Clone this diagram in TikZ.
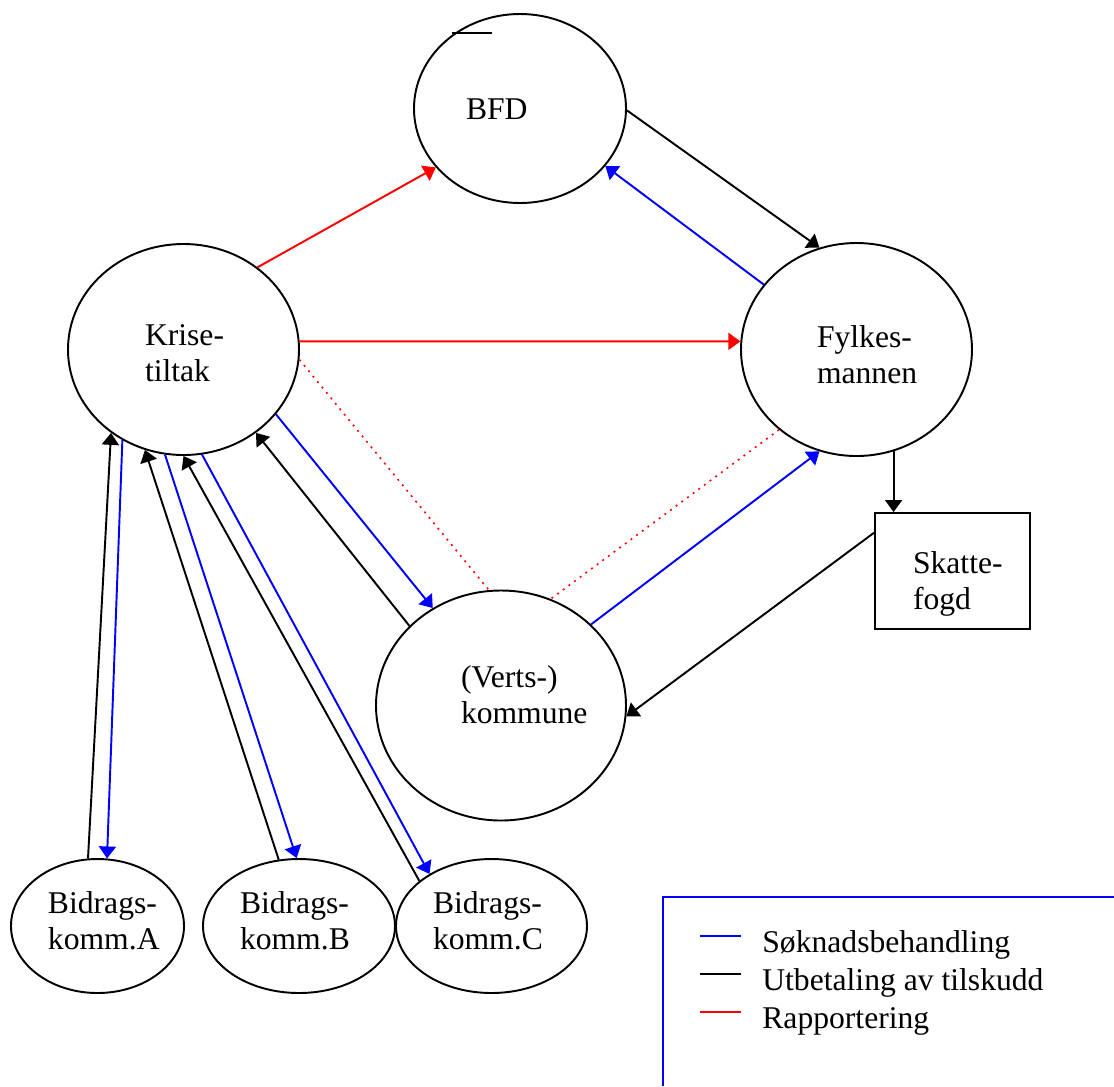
\documentclass[tikz,border=0pt]{standalone}
\usepackage{fontspec}
\setmainfont{Liberation Serif}
\usepackage{tikz}
\usetikzlibrary{shapes.geometric,arrows.meta}
\newcommand{\soknadcolor}{blue}
\newcommand{\utbetcolor}{black}
\newcommand{\rapportcolor}{red}
\newcommand{\thickness}{1.1pt}
\hyphenpenalty=10000
\exhyphenpenalty=10000
\tikzset{
  >={Triangle[length=2.4mm,width=3.4mm]},
  blob/.style={draw, ellipse, line width=\thickness, align=left, inner sep=0pt, text height=4.4mm},
  boks/.style={draw, rectangle, line width=\thickness, align=left, inner sep=0pt, text height=4.4mm},
  soknad/.style={draw=\soknadcolor, line width=\thickness, ->},
  utbet/.style={draw=\utbetcolor, line width=\thickness, ->},
  rapport/.style={draw=\rapportcolor, line width=\thickness, ->},
  rapportdot/.style={draw=\rapportcolor, line width=0.9pt, dash pattern=on 1.1pt off 2.9pt}
}

\begin{document}
\begin{tikzpicture}[x=0.2mm, y=-0.2mm, font=\fontsize{18pt}{21pt}\selectfont]
\useasboundingbox (0,0) rectangle (1114,1086);
%nodes
\node[blob, minimum width=42.4mm, minimum height=37.8mm, text width=21.6mm] (bfd) at (520,108.5) {BFD};
\node[blob, minimum width=46.2mm, minimum height=42.2mm, text width=15.4mm, text depth=6.2mm] (krise) at (183.5,349.5) {Krise-\\tiltak};
\node[blob, minimum width=46.2mm, minimum height=42.6mm, text width=15.8mm, text depth=5.4mm] (fylke) at (856.5,349.5) {Fylkes-\\mannen};
\node[blob, minimum width=50mm, minimum height=46mm, text width=16mm, text depth=11.8mm] (verts) at (501,705.5) {(Verts-)\\kommune};
\node[boks, minimum width=31mm, minimum height=23.2mm, text width=15.8mm, text depth=3.6mm] (skatt) at (952.5,571) {Skatte-\\fogd};
\node[blob, minimum width=34.6mm, minimum height=26.8mm, text width=19.8mm, text depth=9.6mm] (a) at (97.5,926) {Bidrags-\\komm.A};
\node[blob, minimum width=38.4mm, minimum height=26.8mm, text width=23.6mm, text depth=9.6mm] (b) at (299,926) {Bidrags-\\komm.B};
\node[blob, minimum width=38.2mm, minimum height=26.8mm, text width=23.4mm, text depth=9.6mm] (c) at (491.5,926) {Bidrags-\\komm.C};
\draw[line width=\thickness] (452,33) -- (492,33);
%BFD, Fylkesmannen, Skattefogd
\draw[utbet] (bfd.-1) -- (fylke.110);
\draw[soknad] (fylke.145) -- (bfd.-34);
\draw[utbet] (fylke.-70) -- (fylke.-70 |- skatt.north);
\draw[utbet] (skatt.154) -- (verts.-5);
\draw[soknad] (verts.42) -- (fylke.250);
\draw[rapportdot] (fylke.226) -- (verts.65);
%Krisetiltak
\draw[rapport] (krise.48) -- (bfd.215);
\draw[rapport] (krise.4) -- (fylke.176);
\draw[rapportdot] (krise.-5) -- (verts.96);
\draw[soknad] (krise.-35) -- (verts.125);
\draw[utbet] (verts.139) -- (krise.-49);
%Bidragskommuner
\draw[utbet] (a.98) -- (krise.229);
\draw[soknad] (krise.236) -- (a.82);
\draw[utbet] (b.107) -- (krise.249);
\draw[soknad] (krise.260) -- (b.92);
\draw[utbet] (c.148) -- (krise.270);
\draw[soknad] (krise.-80) -- (c.140);
%legend
\draw[\soknadcolor] [line width=1.4pt] (663,1086) -- (663,897) -- (1114,897);
\draw[\soknadcolor] [line width=\thickness] (700,936) -- (741,936);
\draw[\utbetcolor] [line width=\thickness] (700,974) -- (741,974);
\draw[\rapportcolor] [line width=\thickness] (700,1012) -- (741,1012);
\node[anchor=base west, inner sep=0pt] (leg1) at (762,952) {Søknadsbehandling};
\node[anchor=base west, inner sep=0pt] (leg2) at (762,990) {Utbetaling av tilskudd};
\node[anchor=base west, inner sep=0pt] (leg3) at (762,1028) {Rapportering};
\end{tikzpicture}
\end{document}
